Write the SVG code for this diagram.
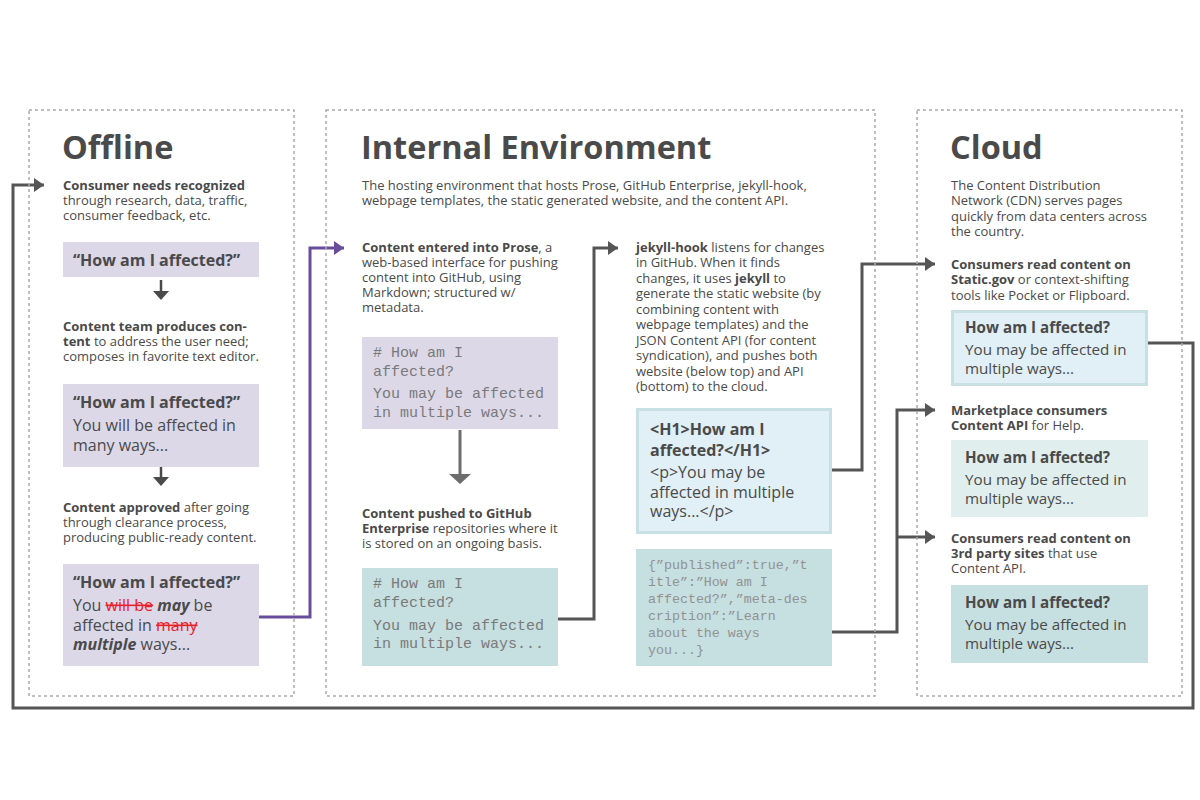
<svg xmlns="http://www.w3.org/2000/svg" width="1200" height="800" viewBox="0 0 1200 800">
<defs>
<style>
text{font-family:"Open Sans","Liberation Sans",sans-serif;fill:#4a4a4a;}
.title{font-size:32.5px;font-weight:700;}
.t{font-size:13px;}
.b{font-weight:700;}
.q{font-size:16px;font-weight:700;}
.p{font-size:16px;}
.cq{font-size:15.2px;font-weight:700;}
.cp{font-size:15.2px;}
.m{font-family:"Liberation Mono","DejaVu Sans Mono",monospace;font-size:15px;fill:#7a7a7a;}
.j{font-family:"Liberation Mono","DejaVu Sans Mono",monospace;font-size:13.3px;fill:#929292;}
.panel{fill:none;stroke:#aaaaaa;stroke-width:1.5;stroke-dasharray:3 3;}
.lav{fill:#dcd8e8;}
.blue{fill:#e1eff6;stroke:#c8e0e4;stroke-width:3;}
.lteal{fill:#e0eeee;}
.teal{fill:#c6dfe0;}
.red{fill:#e8202a;}
.conn{fill:none;stroke:#555555;stroke-width:3;}
.connp{fill:none;stroke:#6a4c9c;stroke-width:3;}
</style>
<marker id="ah" markerUnits="userSpaceOnUse" markerWidth="12" markerHeight="14" refX="10" refY="7" orient="auto">
<path d="M0,0 L10,7 L0,14 Z" fill="#555555"/>
</marker>
<marker id="ahp" markerUnits="userSpaceOnUse" markerWidth="12" markerHeight="14" refX="10" refY="7" orient="auto">
<path d="M0,0 L10,7 L0,14 Z" fill="#6a4c9c"/>
</marker>
</defs>
<rect width="1200" height="800" fill="#ffffff"/>

<g id="connectors">
<polyline class="conn" points="1148,343 1193,343 1193,708 13,708 13,185 44,185" marker-end="url(#ah)"/>
<polyline class="connp" points="259,617 310,617 310,248 344,248" marker-end="url(#ahp)"/>
<polyline class="conn" points="558,619 594,619 594,248 618,248" marker-end="url(#ah)"/>
<polyline class="conn" points="832,470 862,470 862,264 935,264" marker-end="url(#ah)"/>
<polyline class="conn" points="832,632 897,632 897,410 935,410" marker-end="url(#ah)"/>
<polyline class="conn" points="897,537 935,537" marker-end="url(#ah)"/>
<line x1="161" y1="280" x2="161" y2="292" stroke="#4a4a4a" stroke-width="2.5"/>
<path d="M153,291 L169,291 L161,300 Z" fill="#4a4a4a"/>
<line x1="161" y1="467" x2="161" y2="478" stroke="#4a4a4a" stroke-width="2.5"/>
<path d="M153,477 L169,477 L161,486 Z" fill="#4a4a4a"/>
<line x1="460" y1="430" x2="460" y2="476" stroke="#6d6d6d" stroke-width="3"/>
<path d="M449,474 L471,474 L460,484 Z" fill="#6d6d6d"/>
</g>

<g id="offline">
<rect class="panel" x="29" y="110" width="265" height="586"/>
<text class="title" x="62" y="159">Offline</text>
<g id="consumer-needs">
<text class="t" x="63" y="190"><tspan class="b">Consumer needs recognized</tspan></text>
<text class="t" x="63" y="205">through research, data, traffic,</text>
<text class="t" x="63" y="220">consumer feedback, etc.</text>
</g>
<g id="offline-box1">
<rect class="lav" x="63" y="242" width="196" height="35"/>
<text class="q" x="73" y="266">“How am I affected?”</text>
</g>
<g id="content-team">
<text class="t" x="63" y="331"><tspan class="b">Content team produces con-</tspan></text>
<text class="t" x="63" y="346"><tspan class="b">tent</tspan> to address the user need;</text>
<text class="t" x="63" y="361">composes in favorite text editor.</text>
</g>
<g id="offline-box2">
<rect class="lav" x="63" y="384" width="196" height="83"/>
<text class="q" x="73" y="408">“How am I affected?”</text>
<text class="p" x="73" y="431">You will be affected in</text>
<text class="p" x="73" y="451">many ways...</text>
</g>
<g id="content-approved">
<text class="t" x="63" y="512"><tspan class="b">Content approved</tspan> after going</text>
<text class="t" x="63" y="527">through clearance process,</text>
<text class="t" x="63" y="542">producing public-ready content.</text>
</g>
<g id="offline-box3">
<rect class="lav" x="63" y="564" width="196" height="102"/>
<text class="q" x="73" y="588">“How am I affected?”</text>
<text class="p" x="73" y="611">You <tspan class="red" text-decoration="line-through">will be</tspan> <tspan font-style="italic" font-weight="700">may</tspan> be</text>
<text class="p" x="73" y="631">affected in <tspan class="red" text-decoration="line-through">many</tspan></text>
<text class="p" x="73" y="650"><tspan font-style="italic" font-weight="700">multiple</tspan> ways...</text>
</g>
</g>

<g id="internal">
<rect class="panel" x="326" y="110" width="549" height="586"/>
<text class="title" x="361" y="159">Internal Environment</text>
<text class="t" x="362" y="190">The hosting environment that hosts Prose, GitHub Enterprise, jekyll-hook,</text>
<text class="t" x="362" y="205">webpage templates, the static generated website, and the content API.</text>
<g id="prose">
<text class="t" x="362" y="252"><tspan class="b">Content entered into Prose</tspan>, a</text>
<text class="t" x="362" y="267">web-based interface for pushing</text>
<text class="t" x="362" y="282">content into GitHub, using</text>
<text class="t" x="362" y="297">Markdown; structured w/</text>
<text class="t" x="362" y="312">metadata.</text>
</g>
<g id="prose-box">
<rect class="lav" x="362" y="337" width="196" height="92"/>
<text class="m" x="373" y="357">#&#160;How&#160;am&#160;I</text>
<text class="m" x="373" y="376">affected?</text>
<text class="m" x="373" y="398">You&#160;may&#160;be&#160;affected</text>
<text class="m" x="373" y="417">in&#160;multiple&#160;ways...</text>
</g>
<g id="github">
<text class="t" x="362" y="518"><tspan class="b">Content pushed to GitHub</tspan></text>
<text class="t" x="362" y="533"><tspan class="b">Enterprise</tspan> repositories where it</text>
<text class="t" x="362" y="548">is stored on an ongoing basis.</text>
</g>
<g id="github-box">
<rect class="teal" x="362" y="568" width="196" height="98"/>
<text class="m" x="373" y="588">#&#160;How&#160;am&#160;I</text>
<text class="m" x="373" y="607">affected?</text>
<text class="m" x="373" y="630">You&#160;may&#160;be&#160;affected</text>
<text class="m" x="373" y="648">in&#160;multiple&#160;ways...</text>
</g>
<g id="jekyll">
<text class="t" x="636" y="252"><tspan class="b">jekyll-hook</tspan> listens for changes</text>
<text class="t" x="636" y="267">in GitHub. When it finds</text>
<text class="t" x="636" y="283">changes, it uses <tspan class="b">jekyll</tspan> to</text>
<text class="t" x="636" y="298">generate the static website (by</text>
<text class="t" x="636" y="314">combining content with</text>
<text class="t" x="636" y="329">webpage templates) and the</text>
<text class="t" x="636" y="345">JSON Content API (for content</text>
<text class="t" x="636" y="360">syndication), and pushes both</text>
<text class="t" x="636" y="376">website (below top) and API</text>
<text class="t" x="636" y="391">(bottom) to the cloud.</text>
</g>
<g id="html-box">
<rect class="blue" x="637.5" y="409.5" width="193" height="123"/>
<text class="q" x="650" y="435">&lt;H1&gt;How am I</text>
<text class="q" x="650" y="456">affected?&lt;/H1&gt;</text>
<text class="p" x="650" y="478">&lt;p&gt;You may be</text>
<text class="p" x="650" y="498">affected in multiple</text>
<text class="p" x="650" y="517">ways...&lt;/p&gt;</text>
</g>
<g id="json-box">
<rect class="teal" x="636" y="549" width="196" height="117"/>
<text class="j" x="648" y="569">{”published”:true,”t</text>
<text class="j" x="648" y="586">itle”:”How&#160;am&#160;I</text>
<text class="j" x="648" y="603">affected?”,”meta-des</text>
<text class="j" x="648" y="620">cription”:”Learn</text>
<text class="j" x="648" y="637">about&#160;the&#160;ways</text>
<text class="j" x="648" y="654">you...}</text>
</g>
</g>

<g id="cloud">
<rect class="panel" x="917" y="110" width="265" height="586"/>
<text class="title" x="950" y="159">Cloud</text>
<text class="t" x="951" y="190">The Content Distribution</text>
<text class="t" x="951" y="205">Network (CDN) serves pages</text>
<text class="t" x="951" y="221">quickly from data centers across</text>
<text class="t" x="951" y="236">the country.</text>
<g id="static-gov">
<text class="t" x="951" y="269"><tspan class="b">Consumers read content on</tspan></text>
<text class="t" x="951" y="284"><tspan class="b">Static.gov</tspan> or context-shifting</text>
<text class="t" x="951" y="300">tools like Pocket or Flipboard.</text>
<rect class="blue" x="952.5" y="311.5" width="194" height="73"/>
<text class="cq" x="965" y="333">How am I affected?</text>
<text class="cp" x="965" y="355">You may be affected in</text>
<text class="cp" x="965" y="374">multiple ways...</text>
</g>
<g id="marketplace">
<text class="t" x="951" y="415"><tspan class="b">Marketplace consumers</tspan></text>
<text class="t" x="951" y="430"><tspan class="b">Content API</tspan> for Help.</text>
<rect class="lteal" x="951" y="440" width="197" height="77"/>
<text class="cq" x="965" y="463">How am I affected?</text>
<text class="cp" x="965" y="485">You may be affected in</text>
<text class="cp" x="965" y="504">multiple ways...</text>
</g>
<g id="third-party">
<text class="t" x="951" y="543"><tspan class="b">Consumers read content on</tspan></text>
<text class="t" x="951" y="558"><tspan class="b">3rd party sites</tspan> that use</text>
<text class="t" x="951" y="573">Content API.</text>
<rect class="teal" x="951" y="585" width="197" height="78"/>
<text class="cq" x="965" y="608">How am I affected?</text>
<text class="cp" x="965" y="630">You may be affected in</text>
<text class="cp" x="965" y="649">multiple ways...</text>
</g>
</g>
</svg>
